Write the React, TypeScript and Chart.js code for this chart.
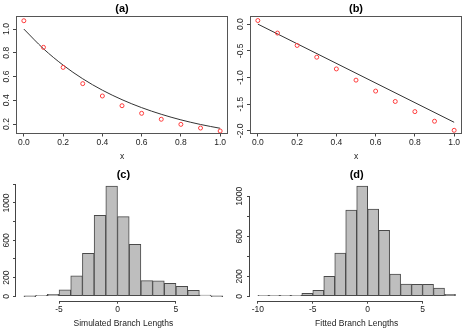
import React, { useEffect, useRef } from "react";
import { Chart, registerables } from "chart.js";

Chart.register(...registerables);

const FONT = '"Liberation Sans", Arial, Helvetica, sans-serif';
Chart.defaults.font.family = FONT;
Chart.defaults.color = "#222";

// ---------- Panel (a) ----------
const xGrid = [0, 0.1, 0.2, 0.3, 0.4, 0.5, 0.6, 0.7, 0.8, 0.9, 1.0];
const pointsA = [1.07, 0.846, 0.677, 0.54, 0.436, 0.354, 0.29, 0.24, 0.197, 0.166, 0.141];
const curveA = [1.0, 0.834, 0.696, 0.581, 0.485, 0.405, 0.338, 0.282, 0.235, 0.196, 0.164];
const xTicksAB = [0, 0.2, 0.4, 0.6, 0.8, 1.0];
const xTickLabelsAB = ["0.0", "0.2", "0.4", "0.6", "0.8", "1.0"];
const yTicksA = [0.2, 0.4, 0.6, 0.8, 1.0];
const yTickLabelsA = ["0.2", "0.4", "0.6", "0.8", "1.0"];

// ---------- Panel (b) ----------
const pointsB = [0.067, -0.168, -0.4, -0.62, -0.84, -1.05, -1.255, -1.45, -1.64, -1.82, -1.99];
const lineBX = [0, 1];
const lineBY = [0.0, -1.84];
const yTicksB = [0, -0.5, -1, -1.5, -2];
const yTickLabelsB = ["0.0", "-0.5", "-1.0", "-1.5", "-2.0"];

// ---------- Panel (c) ----------
const breaksC = [-8, -7, -6, -5, -4, -3, -2, -1, 0, 1, 2, 3, 4, 5, 6, 7, 8, 9];
const countsC = [0, 4, 20, 68, 218, 460, 868, 1182, 854, 557, 168, 165, 140, 107, 64, 14, 0];
const xTicksC = [-5, 0, 5];
const xTickLabelsC = ["-5", "0", "5"];
const yTicksC = [0, 200, 400, 600, 800, 1000, 1200];
const yTickLabelsC = ["0", "200", "", "600", "", "1000", ""];

// ---------- Panel (d) ----------
const breaksD = [-10, -9, -8, -7, -6, -5, -4, -3, -2, -1, 0, 1, 2, 3, 4, 5, 6, 7, 8];
const countsD = [1, 1, 3, 4, 30, 60, 200, 433, 863, 1103, 873, 660, 223, 123, 120, 120, 83, 20];
const xTicksD = [-10, -5, 0, 5];
const xTickLabelsD = ["-10", "-5", "0", "5"];
const yTicksD = [0, 200, 400, 600, 800, 1000];
const yTickLabelsD = ["0", "200", "", "600", "", "1000"];

const TICK_FONT = { size: 8.5 };
const AXIS_COLOR = "#444";

const setTicks = (vals: number[]) => (scale: any) => {
  scale.ticks = vals.map((v) => ({ value: v }));
};
const labelsFrom = (labels: string[]) => (_v: any, i: number) => labels[i];

const rAxesPlugin = {
  id: "rAxes",
  afterDraw(chart: any, _args: any, opts: any) {
    const { ctx, chartArea } = chart;
    ctx.save();
    ctx.strokeStyle = opts.color || AXIS_COLOR;
    ctx.lineWidth = 1;
    if (opts.mode === "box") {
      const l = Math.round(chartArea.left) + 0.5;
      const t = Math.round(chartArea.top) + 0.5;
      const r = Math.round(chartArea.right) - 0.5;
      const b = Math.round(chartArea.bottom) - 0.5;
      ctx.strokeRect(l, t, r - l, b - t);
    } else if (opts.mode === "partial") {
      const xs = chart.scales.x;
      const ys = chart.scales.y;
      const xt = xs.ticks;
      const yt = ys.ticks;
      const yb = Math.round(chartArea.bottom) + 0.5;
      ctx.beginPath();
      ctx.moveTo(xs.getPixelForValue(xt[0].value), yb);
      ctx.lineTo(xs.getPixelForValue(xt[xt.length - 1].value), yb);
      const xl = Math.round(chartArea.left) - 0.5;
      ctx.moveTo(xl, ys.getPixelForValue(yt[0].value));
      ctx.lineTo(xl, ys.getPixelForValue(yt[yt.length - 1].value));
      ctx.stroke();
    }
    ctx.restore();
  },
};

function xAxis(o: any) {
  return {
    type: "linear",
    min: o.min,
    max: o.max,
    offset: false,
    afterBuildTicks: setTicks(o.ticks),
    afterFit: (s: any) => {
      s.height = o.height;
    },
    ticks: {
      callback: labelsFrom(o.labels),
      autoSkip: false,
      maxRotation: 0,
      minRotation: 0,
      padding: o.labelPad,
      font: TICK_FONT,
      color: "#222",
    },
    grid: {
      display: true,
      drawOnChartArea: false,
      drawTicks: true,
      tickLength: 3,
      tickColor: AXIS_COLOR,
      color: AXIS_COLOR,
      lineWidth: 1,
      offset: false,
    },
    border: { display: false },
    title: {
      display: true,
      text: o.title,
      font: { size: 8.5 },
      color: "#222",
      padding: { top: 0, bottom: o.titlePad },
    },
  };
}

function yAxis(o: any) {
  return {
    type: "linear",
    min: o.min,
    max: o.max,
    afterBuildTicks: setTicks(o.ticks),
    afterFit: (s: any) => {
      s.width = o.width;
    },
    ticks: {
      callback: labelsFrom(o.labels),
      autoSkip: false,
      minRotation: 90,
      maxRotation: 90,
      crossAlign: "center",
      padding: o.labelPad,
      font: TICK_FONT,
      color: "#222",
    },
    grid: {
      display: true,
      drawOnChartArea: false,
      drawTicks: true,
      tickLength: 3,
      tickColor: AXIS_COLOR,
      color: AXIS_COLOR,
      lineWidth: 1,
    },
    border: { display: false },
  };
}

function titleOpts(text: string, top: number, bottom: number) {
  return {
    display: true,
    text,
    fullSize: false,
    font: { size: 11, weight: "bold" },
    color: "#000",
    padding: { top, bottom },
  };
}

function scatterConfig(o: any): any {
  return {
    type: "scatter",
    data: {
      datasets: [
        {
          data: xGrid.map((x, i) => ({ x, y: o.pts[i] })),
          showLine: false,
          pointRadius: 2,
          pointBorderWidth: 1,
          pointBorderColor: "#ff3b3b",
          pointBackgroundColor: "rgba(0,0,0,0)",
        },
        {
          data: o.lineX.map((x: number, i: number) => ({ x, y: o.lineY[i] })),
          showLine: true,
          borderColor: "#333",
          borderWidth: 1,
          pointRadius: 0,
          fill: false,
          cubicInterpolationMode: o.smooth ? "monotone" : "default",
        },
      ],
    },
    options: {
      responsive: false,
      animation: false,
      events: [],
      layout: { padding: { left: 0, right: o.rightPad, top: 0, bottom: 0 } },
      plugins: {
        legend: { display: false },
        tooltip: { enabled: false },
        title: titleOpts(o.title, 2.4, 0.4),
        rAxes: { mode: "box", color: "#555" },
      },
      scales: {
        x: xAxis({
          min: -0.04,
          max: 1.04,
          ticks: xTicksAB,
          labels: xTickLabelsAB,
          height: 31.5,
          labelPad: 1.4,
          title: "x",
          titlePad: 2.9,
        }),
        y: yAxis({
          min: o.yMin,
          max: o.yMax,
          ticks: o.yTicks,
          labels: o.yLabels,
          width: o.yWidth,
          labelPad: o.yLabelPad,
        }),
      },
    },
    plugins: [rAxesPlugin],
  };
}

function histConfig(o: any): any {
  const centers = o.breaks.slice(0, -1).map((b: number, i: number) => (b + o.breaks[i + 1]) / 2);
  return {
    type: "bar",
    data: {
      datasets: [
        {
          data: centers.map((x: number, i: number) => ({ x, y: o.counts[i] })),
          backgroundColor: "#bebebe",
          borderColor: "#4a4a4a",
          borderWidth: 1,
          borderSkipped: false,
          barPercentage: 1,
          categoryPercentage: 1,
          minBarLength: 1,
        },
      ],
    },
    options: {
      responsive: false,
      animation: false,
      events: [],
      layout: { padding: { left: 0, right: o.rightPad, top: 0, bottom: 0 } },
      plugins: {
        legend: { display: false },
        tooltip: { enabled: false },
        title: titleOpts(o.title, 3.4, 0),
        rAxes: { mode: "partial", color: AXIS_COLOR },
      },
      scales: {
        x: xAxis({
          min: o.xMin,
          max: o.xMax,
          ticks: o.xTicks,
          labels: o.xLabels,
          height: 30.3,
          labelPad: 0.4,
          title: o.xTitle,
          titlePad: 1.9,
        }),
        y: yAxis({
          min: o.yMin,
          max: o.yMax,
          ticks: o.yTicks,
          labels: o.yLabels,
          width: o.yWidth,
          labelPad: o.yLabelPad,
        }),
      },
    },
    plugins: [rAxesPlugin],
  };
}

function Panel(props: { left: number; top: number; width: number; height: number; make: () => any }) {
  const ref = useRef<HTMLCanvasElement>(null);
  useEffect(() => {
    const chart = new Chart(ref.current as HTMLCanvasElement, props.make());
    return () => chart.destroy();
  }, []);
  return (
    <canvas
      ref={ref}
      width={props.width}
      height={props.height}
      style={{ position: "absolute", left: props.left, top: props.top, width: props.width, height: props.height }}
    />
  );
}

export default function App() {
  return (
    <div style={{ position: "fixed", left: 0, top: 0, width: 467, height: 331, background: "#fff" }}>
      <Panel
        left={0}
        top={0}
        width={233}
        height={165}
        make={() =>
          scatterConfig({
            title: "(a)",
            pts: pointsA,
            lineX: xGrid,
            lineY: curveA,
            smooth: true,
            yMin: 0.12,
            yMax: 1.11,
            yTicks: yTicksA,
            yLabels: yTickLabelsA,
            yWidth: 16,
            yLabelPad: 0.3,
            rightPad: 3,
          })
        }
      />
      <Panel
        left={233}
        top={0}
        width={234}
        height={165}
        make={() =>
          scatterConfig({
            title: "(b)",
            pts: pointsB,
            lineX: lineBX,
            lineY: lineBY,
            smooth: false,
            yMin: -2.05,
            yMax: 0.152,
            yTicks: yTicksB,
            yLabels: yTickLabelsB,
            yWidth: 17,
            yLabelPad: -0.8,
            rightPad: 3,
          })
        }
      />
      <Panel
        left={0}
        top={165}
        width={233}
        height={166}
        make={() =>
          histConfig({
            title: "(c)",
            breaks: breaksC,
            counts: countsC,
            xMin: -8.68,
            xMax: 9.68,
            xTicks: xTicksC,
            xLabels: xTickLabelsC,
            xTitle: "Simulated Branch Lengths",
            yMin: -47.3,
            yMax: 1229.3,
            yTicks: yTicksC,
            yLabels: yTickLabelsC,
            yWidth: 16,
            yLabelPad: -2.9,
            rightPad: 2.3,
          })
        }
      />
      <Panel
        left={233}
        top={165}
        width={234}
        height={166}
        make={() =>
          histConfig({
            title: "(d)",
            breaks: breaksD,
            counts: countsD,
            xMin: -10.72,
            xMax: 8.72,
            xTicks: xTicksD,
            xLabels: xTickLabelsD,
            xTitle: "Fitted Branch Lengths",
            yMin: -44.1,
            yMax: 1147,
            yTicks: yTicksD,
            yLabels: yTickLabelsD,
            yWidth: 17,
            yLabelPad: -2.4,
            rightPad: 3.6,
          })
        }
      />
    </div>
  );
}
